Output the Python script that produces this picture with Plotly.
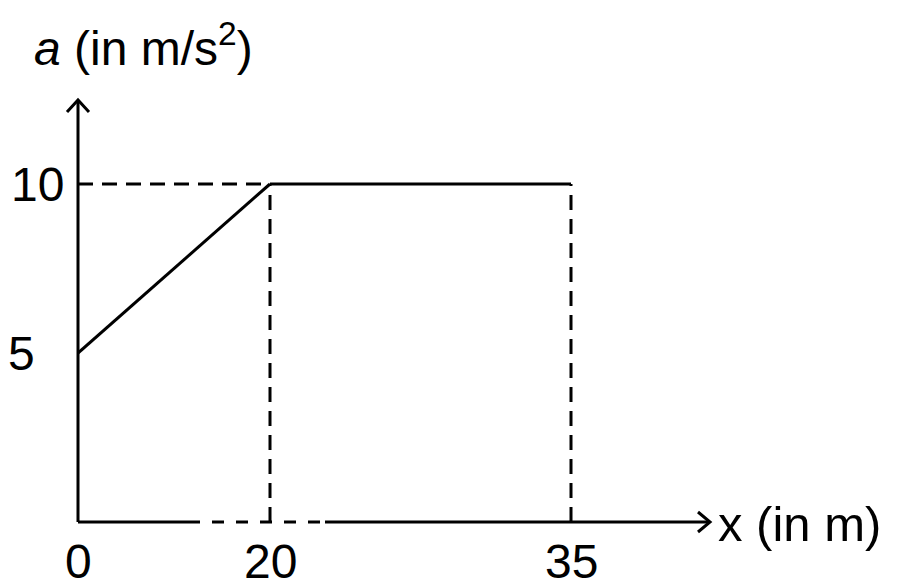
import plotly.graph_objects as go

# distance (m) and acceleration (m/s^2)
x_points = [0, 20, 35]
a_points = [5, 10, 10]
x_tick_labels = ["0", "20", "35"]
y_tick_values = [10, 5]
y_tick_labels = ["10", "5"]

FONT = "Liberation Sans"
SIZE = 48
OFF = 8  # page body margin of the browser
W = 632  # plot width px
H = 422  # plot height px

def px_x(p):
    return (p - 78) / W

def px_y(p):
    return (522 - p) / H

solid = dict(color="black", width=3)
dashed = dict(color="black", width=3, dash="15px,9px")

fig = go.Figure()
# rising part 0..20
fig.add_trace(go.Scatter(x=x_points[:2], y=a_points[:2], mode="lines", line=solid, xaxis="x", yaxis="y"))
# dashed guide at a = 10 from the a-axis to x = 20
fig.add_trace(go.Scatter(x=[x_points[0], x_points[1]], y=[a_points[1], a_points[1]], mode="lines", line=dashed, xaxis="x", yaxis="y"))
# flat part 20..35 (second x scale, diagram is not to scale)
fig.add_trace(go.Scatter(x=x_points[1:], y=a_points[1:], mode="lines", line=solid, xaxis="x2", yaxis="y"))
# dashed drops at x = 20 and x = 35
for xv, av in zip(x_points[1:], a_points[1:]):
    fig.add_trace(go.Scatter(x=[xv, xv], y=[0, av], mode="lines", line=dashed, xaxis="x2", yaxis="y"))

k1 = (270 - 78) / (x_points[1] - x_points[0])
k2 = (571 - 270) / (x_points[2] - x_points[1])
x1_end = x_points[0] + W / k1
x2_start = x_points[1] - (270 - 78) / k2
x2_end = x_points[1] + (710 - 270) / k2
y_top = a_points[1] * (522 - 100) / (522 - 184)

fig.update_layout(
    width=900 - OFF, height=586 - OFF,
    margin=dict(l=78 - OFF, r=190, t=100 - OFF, b=64),
    paper_bgcolor="white", plot_bgcolor="white",
    showlegend=False,
    xaxis=dict(domain=[0, 1], range=[0, x1_end], visible=False),
    xaxis2=dict(domain=[0, 1], range=[x2_start, x2_end], visible=False, anchor="y", overlaying="x"),
    yaxis=dict(domain=[0, 1], range=[0, y_top], visible=False),
)

# axes lines and arrow heads
fig.add_shape(type="line", xref="paper", yref="paper", x0=0, x1=0, y0=0, y1=1, line=solid)
fig.add_shape(type="line", xref="paper", yref="paper", x0=0, x1=px_x(188), y0=0, y1=0, line=solid)
fig.add_shape(type="line", xref="paper", yref="paper", x0=px_x(188), x1=px_x(325), y0=0, y1=0,
              line=dict(color="black", width=3, dash="12px,12px"))
fig.add_shape(type="line", xref="paper", yref="paper", x0=px_x(325), x1=1, y0=0, y1=0, line=solid)
fig.add_shape(type="path", xref="paper", yref="paper", xsizemode="pixel", ysizemode="pixel",
              xanchor=0, yanchor=1, path="M -11,-12 L 0,0 L 11,-12", line=solid)
fig.add_shape(type="path", xref="paper", yref="paper", xsizemode="pixel", ysizemode="pixel",
              xanchor=1, yanchor=0, path="M -12,10 L 0,0 L -12,-10", line=solid)

font = dict(family=FONT, size=SIZE, color="black")
for xv, lab, ax in zip(x_points, x_tick_labels, ["x", "x", "x2"]):
    fig.add_annotation(x=xv, y=px_y(561), xref=ax, yref="paper", text=lab, showarrow=False,
                       xanchor="center", yanchor="middle", height=40, borderpad=0, font=font)
for yv, lab, cx in zip(y_tick_values, y_tick_labels, [37.5, 21.5]):
    fig.add_annotation(x=px_x(cx), y=yv, xref="paper", yref="y", text=lab, showarrow=False,
                       xanchor="center", yanchor="middle", font=font)

fig.add_annotation(x=px_x(32), y=px_y(45), xref="paper", yref="paper",
                   text="<i>a</i> (in m/s<sup>2</sup>)", showarrow=False,
                   xanchor="left", yanchor="middle", font=font)
fig.add_annotation(x=px_x(716), y=px_y(524), xref="paper", yref="paper",
                   text="x (in m)", showarrow=False,
                   xanchor="left", yanchor="middle", font=dict(family=FONT, size=SIZE + 1, color="black"))

fig.write_html("out.html")
